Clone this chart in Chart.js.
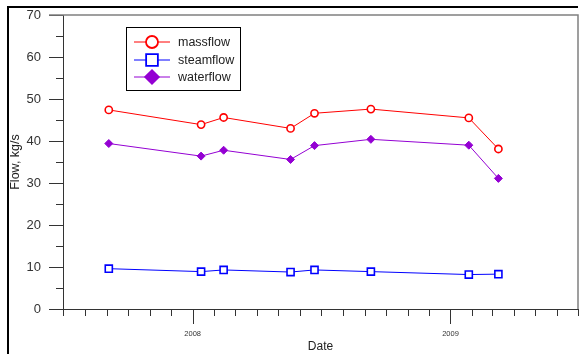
<!DOCTYPE html>
<html>
<head>
<meta charset="utf-8">
<script src="https://cdn.jsdelivr.net/npm/chart.js@4/dist/chart.umd.min.js"></script>
<style>
  body { margin: 0; background: #fff; }
  canvas { display: block; }
</style>
</head>
<body>
<canvas id="flowChart" width="579" height="354"></canvas>
<script>
// sampling dates and flows (kg/s)
const dates = ['2007-09-04', '2008-01-13', '2008-02-14', '2008-05-19', '2008-06-22', '2008-09-10', '2009-01-27', '2009-03-10'];
const massflow = [47.4, 43.9, 45.6, 43.0, 46.6, 47.6, 45.5, 38.1];
const steamflow = [9.6, 8.9, 9.3, 8.8, 9.3, 8.9, 8.2, 8.3];
const waterflow = [39.4, 36.4, 37.8, 35.6, 38.9, 40.4, 39.0, 31.1];

const xStart = '2007-07-01';
const xEnd = '2009-07-01';
const yMin = 0, yMax = 70, yStep = 5;

const FONT = 'Liberation Sans, Arial, sans-serif';
const toMs = s => Date.parse(s + 'T00:00:00Z');

function points(values) {
  return dates.map((d, i) => ({ x: toMs(d), y: values[i] }));
}

// month starts between the axis limits
function monthTicks() {
  const out = [];
  const d = new Date(toMs(xStart));
  const end = toMs(xEnd);
  while (d.getTime() <= end) {
    out.push({ value: d.getTime() });
    d.setUTCMonth(d.getUTCMonth() + 1);
  }
  return out;
}

// fixed axis box, no extra label padding
function fixScale(size) {
  return scale => {
    if (scale.isHorizontal()) scale.height = size; else scale.width = size;
    scale.paddingTop = scale.paddingBottom = scale.paddingLeft = scale.paddingRight = 0;
  };
}

// frame, tick marks, plot border
const framePlugin = {
  id: 'frame',
  afterDraw(chart) {
    const ctx = chart.ctx;
    const area = chart.chartArea;
    const xs = chart.scales.x, ys = chart.scales.y;
    ctx.save();

    // outer black frame (top + left)
    ctx.strokeStyle = '#000';
    ctx.lineWidth = 2;
    ctx.beginPath();
    ctx.moveTo(8, 354);
    ctx.lineTo(8, 7);
    ctx.lineTo(578, 7);
    ctx.stroke();

    ctx.strokeStyle = '#333';
    ctx.lineWidth = 1;
    ctx.beginPath();
    ys.ticks.forEach(t => {
      const y = Math.round(ys.getPixelForValue(t.value)) + 0.5;
      const len = t.value % 10 === 0 ? 14 : 7;
      ctx.moveTo(area.left, y);
      ctx.lineTo(area.left - len, y);
    });
    xs.ticks.forEach(t => {
      const x = Math.round(xs.getPixelForValue(t.value)) + 0.5;
      const len = new Date(t.value).getUTCMonth() === 0 ? 15 : 7;
      ctx.moveTo(x, area.bottom);
      ctx.lineTo(x, area.bottom + len);
    });
    ctx.stroke();

    // grey top/right border of the plot
    ctx.strokeStyle = '#808080';
    ctx.lineWidth = 1.5;
    ctx.beginPath();
    ctx.moveTo(area.left - 14, area.top);
    ctx.lineTo(area.right, area.top);
    ctx.lineTo(area.right, area.bottom);
    ctx.stroke();
    ctx.restore();
  }
};

// boxed legend with line + marker samples
const legendPlugin = {
  id: 'boxLegend',
  afterDraw(chart) {
    const ctx = chart.ctx;
    const box = { x: 126.5, y: 27.5, w: 114, h: 63 };
    const rowY = [42, 60, 77];
    const markerR = { circle: 6, rect: 8.3, rectRot: 6.8 };
    ctx.save();
    ctx.strokeStyle = '#000';
    ctx.lineWidth = 1;
    ctx.strokeRect(box.x, box.y, box.w, box.h);
    chart.data.datasets.forEach((ds, i) => {
      const y = rowY[i];
      ctx.strokeStyle = ds.borderColor;
      ctx.lineWidth = 1;
      ctx.beginPath();
      ctx.moveTo(134, y);
      ctx.lineTo(170, y);
      ctx.stroke();
      ctx.fillStyle = ds.pointBackgroundColor;
      ctx.strokeStyle = ds.borderColor;
      ctx.lineWidth = 1.8;
      Chart.helpers.drawPoint(ctx, { pointStyle: ds.pointStyle, radius: markerR[ds.pointStyle], rotation: 0, borderWidth: 1.8 }, 152, y);
      ctx.fillStyle = '#222';
      ctx.font = '12.5px ' + FONT;
      ctx.textBaseline = 'middle';
      ctx.textAlign = 'left';
      ctx.fillText(ds.label, 178, y + 0.5);
    });
    ctx.restore();
  }
};

new Chart(document.getElementById('flowChart'), {
  type: 'line',
  data: {
    datasets: [
      {
        label: 'massflow',
        data: points(massflow),
        borderColor: '#ff0000',
        pointBackgroundColor: '#ffffff',
        pointBorderColor: '#ff0000',
        pointStyle: 'circle',
        pointRadius: 3.6,
        pointBorderWidth: 1.6,
        borderWidth: 1
      },
      {
        label: 'steamflow',
        data: points(steamflow),
        borderColor: '#0000ff',
        pointBackgroundColor: '#ffffff',
        pointBorderColor: '#0000ff',
        pointStyle: 'rect',
        pointRadius: 5,
        pointBorderWidth: 1.6,
        borderWidth: 1
      },
      {
        label: 'waterflow',
        data: points(waterflow),
        borderColor: '#9400d3',
        pointBackgroundColor: '#9400d3',
        pointBorderColor: '#9400d3',
        pointStyle: 'rectRot',
        pointRadius: 4,
        pointBorderWidth: 1,
        borderWidth: 1
      }
    ]
  },
  options: {
    responsive: false,
    animation: false,
    layout: { autoPadding: false, padding: { left: 0, top: 15, right: 1, bottom: 0 } },
    plugins: { legend: { display: false }, tooltip: { enabled: false } },
    elements: { line: { tension: 0 } },
    scales: {
      x: {
        type: 'linear',
        min: toMs(xStart),
        max: toMs(xEnd),
        afterBuildTicks: scale => { scale.ticks = monthTicks(); },
        afterFit: fixScale(45),
        grid: { display: false, drawTicks: false },
        border: { display: true, color: '#333', width: 1 },
        ticks: {
          autoSkip: false,
          maxRotation: 0,
          padding: 20,
          color: '#333',
          font: { family: FONT, size: 7.5 },
          callback: v => {
            const d = new Date(v);
            return d.getUTCMonth() === 0 ? String(d.getUTCFullYear()) : '';
          }
        },
        title: {
          display: true,
          text: 'Date',
          color: '#222',
          font: { family: FONT, size: 12 },
          padding: { top: 0, bottom: 0 }
        }
      },
      y: {
        min: yMin,
        max: yMax,
        afterFit: fixScale(63),
        grid: { display: false, drawTicks: false },
        border: { display: true, color: '#333', width: 1 },
        ticks: {
          stepSize: yStep,
          padding: 22,
          color: '#333',
          font: { family: FONT, size: 13 },
          callback: v => (v % 10 === 0 ? v : '')
        },
        title: {
          display: true,
          text: 'Flow, kg/s',
          color: '#222',
          font: { family: FONT, size: 12.5 },
          padding: { top: 8.5, bottom: 0 }
        }
      }
    }
  },
  plugins: [framePlugin, legendPlugin]
});
</script>
</body>
</html>
